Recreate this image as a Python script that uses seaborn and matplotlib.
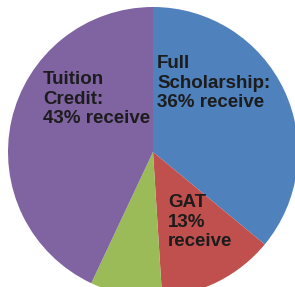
import matplotlib
matplotlib.use("Agg")
import matplotlib.pyplot as plt
import seaborn as sns

# slice data (clockwise from top)
categories = ["Full Scholarship", "GAT", "Other", "Tuition Credit"]
shares = [36, 13, 8, 43]
labels = ["Full\nScholarship:\n36% receive", "GAT\n13%\nreceive", "", "Tuition\nCredit:\n43% receive"]
colors = ["#4F81BD", "#C0504D", "#9BBB59", "#8064A2"]

sns.set_theme(style="white")
plt.rcParams['font.family'] = ['Liberation Sans', 'DejaVu Sans']

fig = plt.figure(figsize=(2.95, 2.87), dpi=100)
ax = fig.add_axes([0, 0, 1, 1])

ax.pie(shares, colors=colors, startangle=90, counterclock=False,
       wedgeprops=dict(linewidth=0))

# pixel-based framing: center at (153,152), radius 145 px
cx, cy, r = 153, 152, 145
ax.set_xlim(-cx / r, (295 - cx) / r)
ax.set_ylim(-(287 - cy) / r, cy / r)
ax.set_aspect("equal")
ax.axis("off")

# label anchors (top-left corner, in pixels)
label_pos = [(157, 55), (168, 194), None, (43, 71)]
for lab, pos in zip(labels, label_pos):
    if not lab:
        continue
    px, py = pos
    ax.text((px - cx) / r, (cy - py) / r, lab, ha="left", va="top",
            fontsize=13.5, fontweight="bold", color="#1c1c1c",
            linespacing=1.2)

fig.savefig("out.png", dpi=100)
